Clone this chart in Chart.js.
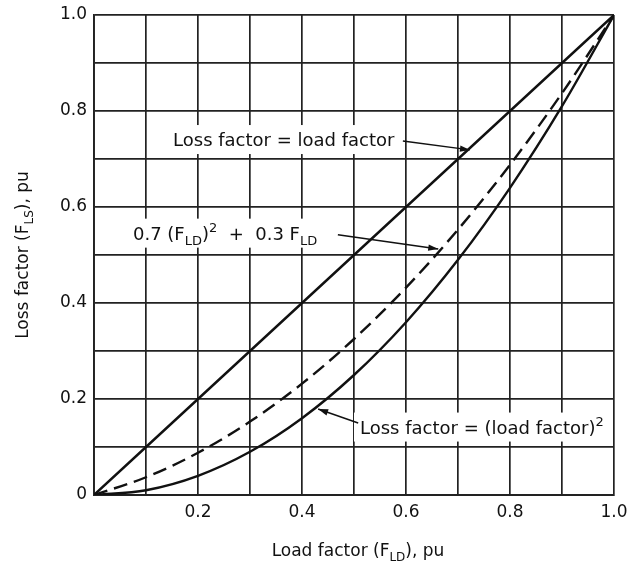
<!DOCTYPE html>
<html>
<head>
<meta charset="utf-8">
<script src="https://cdn.jsdelivr.net/npm/chart.js@4/dist/chart.umd.min.js"></script>
<style>
  html, body { margin: 0; padding: 0; background: #fff; }
  #wrap { width: 631px; height: 565px; position: relative; }
</style>
</head>
<body>
<div id="wrap"><canvas id="c" width="631" height="565"></canvas></div>
<script>
// ---- data ----
const loadFactor  = [0, 0.1, 0.2, 0.3, 0.4, 0.5, 0.6, 0.7, 0.8, 0.9, 1.0];
const lossEqual   = [0, 0.1, 0.2, 0.3, 0.4, 0.5, 0.6, 0.7, 0.8, 0.9, 1.0];
const lossMixed   = [0, 0.037, 0.088, 0.153, 0.232, 0.325, 0.432, 0.553, 0.688, 0.837, 1.0];
const lossSquare  = [0, 0.01, 0.04, 0.09, 0.16, 0.25, 0.36, 0.49, 0.64, 0.81, 1.0];
const xTickLabels = ['', '', '0.2', '', '0.4', '', '0.6', '', '0.8', '', '1.0'];
const yTickLabels = ['0', '', '0.2', '', '0.4', '', '0.6', '', '0.8', '', '1.0'];

const FONT = "'DejaVu Sans', 'Liberation Sans', sans-serif";
const INK = '#111';
const GRID = '#222';

function pts(xs, ys) { return xs.map((x, i) => ({ x: x, y: ys[i] })); }

// annotation labels (positions in data units)
const labels = [
  { segs: [{ t: 'Loss factor = load factor' }], x: 0.152, y: 0.727,
    arrow: [0.594, 0.7375, 0.723, 0.719] },
  { segs: [{ t: '0.7 (F' }, { t: 'LD', sub: true }, { t: ')' }, { t: '2', sup: true },
           { t: '  +  0.3 F' }, { t: 'LD', sub: true }], x: 0.075, y: 0.532,
    arrow: [0.469, 0.542, 0.662, 0.5125] },
  { segs: [{ t: 'Loss factor = (load factor)' }, { t: '2', sup: true }], x: 0.5115, y: 0.128,
    arrow: [0.508, 0.15, 0.431, 0.179] }
];

function segFont(s, size) {
  return ((s.sub || s.sup) ? Math.round(size * 0.7) : size) + 'px ' + FONT;
}
function richWidth(ctx, segs, size) {
  let w = 0;
  segs.forEach(s => { ctx.font = segFont(s, size); w += ctx.measureText(s.t).width; });
  return w;
}
function drawRich(ctx, segs, x, y, size) {
  let cx = x;
  ctx.textBaseline = 'alphabetic';
  ctx.textAlign = 'left';
  segs.forEach(s => {
    ctx.font = segFont(s, size);
    let dy = 0;
    if (s.sub) dy = size * 0.28;
    if (s.sup) dy = -size * 0.42;
    ctx.fillText(s.t, cx, y + dy);
    cx += ctx.measureText(s.t).width;
  });
}
function arrow(ctx, x1, y1, x2, y2) {
  ctx.beginPath();
  ctx.moveTo(x1, y1);
  ctx.lineTo(x2, y2);
  ctx.lineWidth = 1.5;
  ctx.strokeStyle = INK;
  ctx.stroke();
  const a = Math.atan2(y2 - y1, x2 - x1);
  const L = 10, W = 3.2;
  ctx.beginPath();
  ctx.moveTo(x2, y2);
  ctx.lineTo(x2 - L * Math.cos(a) + W * Math.sin(a), y2 - L * Math.sin(a) - W * Math.cos(a));
  ctx.lineTo(x2 - L * Math.cos(a) - W * Math.sin(a), y2 - L * Math.sin(a) + W * Math.cos(a));
  ctx.closePath();
  ctx.fillStyle = INK;
  ctx.fill();
}

const annotPlugin = {
  id: 'annot',
  beforeDatasetsDraw(chart) {
    const ctx = chart.ctx, xs = chart.scales.x, ys = chart.scales.y;
    const size = 18;
    ctx.save();
    labels.forEach(l => {
      const px = xs.getPixelForValue(l.x), py = ys.getPixelForValue(l.y);
      const w = richWidth(ctx, l.segs, size);
      ctx.fillStyle = '#fff';
      ctx.fillRect(px - 6, py - 21, w + 12, 29);
      ctx.fillStyle = INK;
      drawRich(ctx, l.segs, px, py, size);
      arrow(ctx, xs.getPixelForValue(l.arrow[0]), ys.getPixelForValue(l.arrow[1]),
                 xs.getPixelForValue(l.arrow[2]), ys.getPixelForValue(l.arrow[3]));
    });
    ctx.restore();
  },
  afterDraw(chart) {
    const ctx = chart.ctx, a = chart.chartArea;
    const size = 17;
    ctx.save();
    ctx.fillStyle = INK;
    // x-axis title
    const xt = [{ t: 'Load factor (F' }, { t: 'LD', sub: true }, { t: '), pu' }];
    const wx = richWidth(ctx, xt, size);
    drawRich(ctx, xt, (a.left + a.right) / 2 - wx / 2 + 4, 556, size);
    // y-axis title
    const yt = [{ t: 'Loss factor (F' }, { t: 'LS', sub: true }, { t: '), pu' }];
    const wy = richWidth(ctx, yt, size);
    ctx.translate(28, 255);
    ctx.rotate(-Math.PI / 2);
    drawRich(ctx, yt, -wy / 2, 0, size);
    ctx.restore();
  }
};

const lineStyle = { borderColor: INK, borderWidth: 2.4, pointRadius: 0, fill: false,
                    cubicInterpolationMode: 'monotone' };

new Chart(document.getElementById('c'), {
  type: 'line',
  data: {
    datasets: [
      Object.assign({ label: 'Loss factor = load factor', data: pts(loadFactor, lossEqual) }, lineStyle),
      Object.assign({ label: '0.7 (FLD)^2 + 0.3 FLD', data: pts(loadFactor, lossMixed), borderDash: [14, 7] }, lineStyle),
      Object.assign({ label: 'Loss factor = (load factor)^2', data: pts(loadFactor, lossSquare) }, lineStyle)
    ]
  },
  options: {
    responsive: false,
    animation: false,
    devicePixelRatio: 1,
    layout: { padding: { top: 15, right: 17, left: 0, bottom: 0 } },
    plugins: { legend: { display: false }, tooltip: { enabled: false } },
    scales: {
      x: {
        type: 'linear', min: 0, max: 1,
        afterFit(s) { s.height = 70; s.paddingLeft = 0; s.paddingRight = 0; },
        afterBuildTicks(s) { s.ticks = loadFactor.map(v => ({ value: v })); },
        ticks: {
          autoSkip: false, maxRotation: 0, padding: 7, color: INK,
          font: { family: FONT, size: 17 },
          callback(v, i) { return xTickLabels[i]; }
        },
        grid: { color: GRID, lineWidth: 1.7, drawTicks: false },
        border: { color: GRID, width: 1.9 }
      },
      y: {
        type: 'linear', min: 0, max: 1,
        afterFit(s) { s.width = 94; s.paddingTop = 0; s.paddingBottom = 0; },
        afterBuildTicks(s) { s.ticks = lossEqual.map(v => ({ value: v })); },
        ticks: {
          autoSkip: false, padding: 7, color: INK,
          font: { family: FONT, size: 17 },
          callback(v, i) { return yTickLabels[i]; }
        },
        grid: { color: GRID, lineWidth: 1.7, drawTicks: false },
        border: { color: GRID, width: 1.9 }
      }
    }
  },
  plugins: [annotPlugin]
});
</script>
</body>
</html>
